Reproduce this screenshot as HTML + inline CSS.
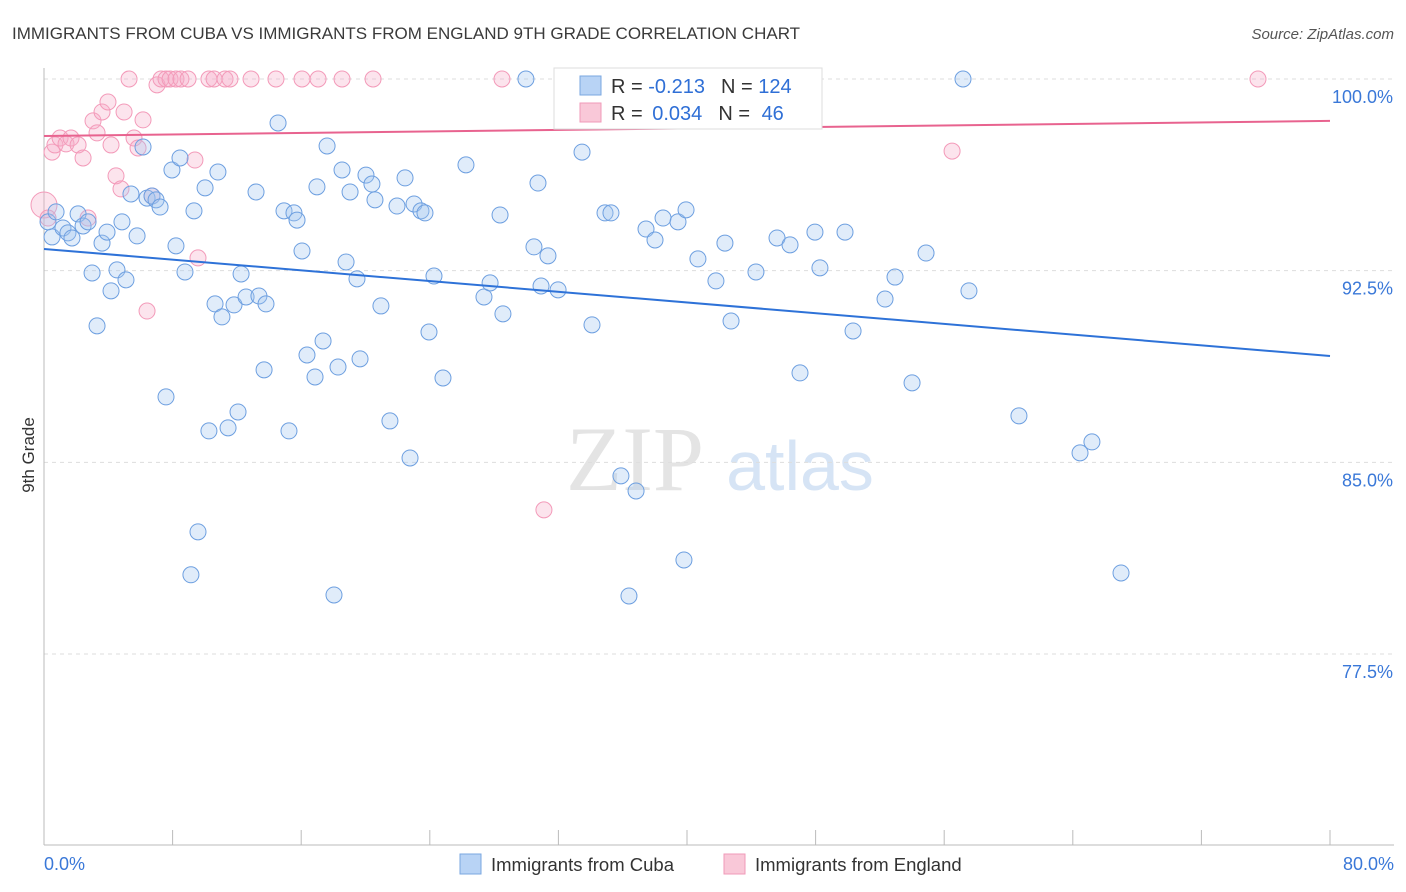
<!DOCTYPE html>
<html><head><meta charset="utf-8">
<style>
body{margin:0;background:#fff;font-family:"Liberation Sans",sans-serif;}
svg{display:block}
</style></head>
<body>
<svg id="chart" width="1406" height="892" viewBox="0 0 1406 892">
<text x="12" y="39" font-size="17" fill="#3a3a3a">IMMIGRANTS FROM CUBA VS IMMIGRANTS FROM ENGLAND 9TH GRADE CORRELATION CHART</text>
<text x="1394" y="39" font-size="15" fill="#555" text-anchor="end" font-style="italic">Source: ZipAtlas.com</text>
<text x="635" y="490" font-size="92" fill="#e4e4e4" font-family="Liberation Serif,serif" text-anchor="middle">ZIP</text>
<text x="800" y="490" font-size="70" fill="#d6e4f5" text-anchor="middle">atlas</text>
<g id="grid"></g>
<g id="axes"></g>
<g id="pts"></g>
<g id="lines"></g>
<text transform="translate(34,455) rotate(-90)" font-size="17" fill="#333" text-anchor="middle">9th Grade</text>
<g>
<rect x="554" y="68" width="268" height="61" fill="#fff" stroke="#ddd"/>
<rect x="580" y="76" width="21" height="19" fill="#b8d3f5" stroke="#7aa7e0"/>
<rect x="580" y="103" width="21" height="19" fill="#f9c8d8" stroke="#f09ab8"/>
<text x="611" y="93" font-size="20" fill="#333">R = <tspan fill="#2f6fd6">-0.213</tspan><tspan dx="16">N = </tspan><tspan fill="#2f6fd6">124</tspan></text>
<text x="611" y="120" font-size="20" fill="#333">R = <tspan fill="#2f6fd6" dx="4">0.034</tspan><tspan dx="16">N = </tspan><tspan fill="#2f6fd6" dx="6">46</tspan></text>
</g>
<g>
<rect x="460" y="854" width="21" height="20" fill="#b8d3f5" stroke="#7aa7e0"/>
<text x="491" y="871" font-size="18.5" fill="#333">Immigrants from Cuba</text>
<rect x="724" y="854" width="21" height="20" fill="#f9c8d8" stroke="#f09ab8"/>
<text x="755" y="871" font-size="18.5" fill="#333">Immigrants from England</text>
</g>
</svg>
<script>
const yTicks=[100,92.5,85,77.5];
const yTickLabels=["100.0%","92.5%","85.0%","77.5%"];
const xTickVals=[8,16,24,32,40,48,56,64,72,80];
const xEndLabels=["0.0%","80.0%"];
const cubaX=[0.50,0.25,0.75,1.18,1.49,1.74,2.12,2.43,2.74,2.99,3.30,3.61,3.92,4.17,4.54,4.85,5.10,5.41,5.79,6.16,6.41,6.72,6.97,7.22,7.59,7.96,8.21,8.46,8.77,9.14,9.33,9.58,10.02,10.26,10.64,10.82,11.07,11.45,11.82,12.07,12.26,12.57,13.19,13.37,13.69,13.81,14.56,14.93,15.24,15.55,15.74,16.05,16.36,16.86,16.98,17.36,17.61,18.04,18.29,18.54,18.79,19.04,19.47,19.66,20.03,20.40,20.59,20.96,21.52,22.46,22.77,21.96,23.02,23.45,23.70,23.95,24.26,24.82,26.25,27.37,27.75,28.37,28.55,29.98,30.48,30.73,30.92,31.35,31.98,33.47,34.09,34.90,35.27,35.89,36.39,36.83,37.45,38.01,38.51,39.44,39.81,39.94,40.68,41.80,42.36,42.74,44.29,45.60,46.41,47.03,47.96,48.27,49.83,50.33,52.32,52.94,54.00,54.87,57.17,57.54,60.65,64.45,65.19,67.00];
const cubaY=[93.82,94.41,94.80,94.17,93.98,93.78,94.72,94.25,94.41,92.41,90.34,93.58,94.01,91.71,92.53,94.41,92.14,95.50,93.86,97.34,95.34,95.42,95.27,94.99,87.56,96.44,93.47,96.91,92.45,80.60,94.84,82.28,95.74,86.23,91.20,96.36,90.69,86.35,91.16,86.97,92.37,91.47,95.58,91.51,88.62,91.20,98.28,94.84,86.23,94.76,94.48,93.27,89.20,88.34,95.78,89.75,97.38,79.81,88.73,96.44,92.84,95.58,92.18,89.05,96.24,95.89,95.27,91.12,86.62,96.13,85.17,95.03,95.11,94.84,94.76,90.10,92.29,88.30,96.64,91.47,92.02,94.68,90.81,100,93.43,95.93,91.90,93.08,91.75,97.14,90.38,94.76,94.76,84.47,79.77,83.88,94.13,93.70,94.56,94.41,81.18,94.88,92.96,92.10,93.58,90.53,92.45,93.78,93.51,88.50,94.01,92.61,94.01,90.14,91.39,92.25,88.11,93.19,100,91.71,86.82,85.37,85.80,80.67];
const engX=[0,0.25,0.50,0.68,1.00,1.37,1.68,2.12,2.43,2.74,3.05,3.30,3.61,3.98,4.17,4.48,4.79,4.98,5.29,5.60,5.85,6.16,6.41,6.72,7.03,7.28,7.59,7.84,8.21,8.52,8.96,9.39,9.58,10.26,10.58,11.26,11.57,12.88,14.43,16.05,17.05,18.54,20.47,28.49,31.10,32.97,56.49,75.52];
const engY=[95.07,94.56,97.14,97.42,97.69,97.46,97.69,97.42,96.91,94.56,98.36,97.89,98.71,99.10,97.42,96.21,95.70,98.71,100,97.69,97.30,98.40,90.92,95.42,99.77,100,100,100,100,100,100,96.83,93.00,100,100,100,100,100,100,100,100,100,100,100,83.14,100,97.18,100];
const cubaTrend=[93.35,89.16];
const engTrend=[97.77,98.36];

const X=v=>44+v*(1330-44)/80;
const Y=v=>79+(100-v)*(654-79)/22.5;
const NS="http://www.w3.org/2000/svg";
function mk(parent,tag,attrs){const e=document.createElementNS(NS,tag);for(const k in attrs)e.setAttribute(k,attrs[k]);parent.appendChild(e);return e;}
const grid=document.getElementById('grid'),axes=document.getElementById('axes'),pts=document.getElementById('pts'),lines=document.getElementById('lines');
yTicks.forEach((t,i)=>{
  const l=mk(grid,'line',{x1:44,x2:1394,y1:Y(t),y2:Y(t),stroke:'#ddd','stroke-dasharray':'4,4'});
  
  
  const tx=mk(grid,'text',{x:1393,y:Y(t)+24,'font-size':18,fill:'#3a78d8','text-anchor':'end'});
  tx.textContent=yTickLabels[i];
  
  
});
const ax=mk(axes,'line',{x1:44,x2:44,y1:68,y2:845,stroke:'#bbb'});


const bx=mk(axes,'line',{x1:44,x2:1394,y1:845,y2:845,stroke:'#bbb'});


xTickVals.forEach(v=>{
  const t=mk(axes,'line',{x1:X(v),x2:X(v),y1:830,y2:845,stroke:'#bbb'});
  
  
});
[[0,'start',44],[80,'end',1394]].forEach((d,i)=>{
  const t=mk(axes,'text',{x:d[2],y:870,'font-size':18,fill:'#3a78d8','text-anchor':d[1]});
  t.textContent=xEndLabels[i];
  
  
});
engX.forEach((x,i)=>{
  const c=mk(pts,'circle',{cx:X(x),cy:Y(engY[i]),r:i===0?13:8,fill:'rgba(246,170,198,0.32)',stroke:'#f39ab9','stroke-width':1});
  
  
});
cubaX.forEach((x,i)=>{
  const c=mk(pts,'circle',{cx:X(x),cy:Y(cubaY[i]),r:8,fill:'rgba(160,196,240,0.33)',stroke:'#6d9fe0','stroke-width':1});
  
  
});
const l1=mk(lines,'line',{x1:X(0),x2:X(80),y1:Y(cubaTrend[0]),y2:Y(cubaTrend[1]),stroke:'#2e72d8','stroke-width':2});


const l2=mk(lines,'line',{x1:X(0),x2:X(80),y1:Y(engTrend[0]),y2:Y(engTrend[1]),stroke:'#e8638f','stroke-width':2});


</script>
</body></html>
